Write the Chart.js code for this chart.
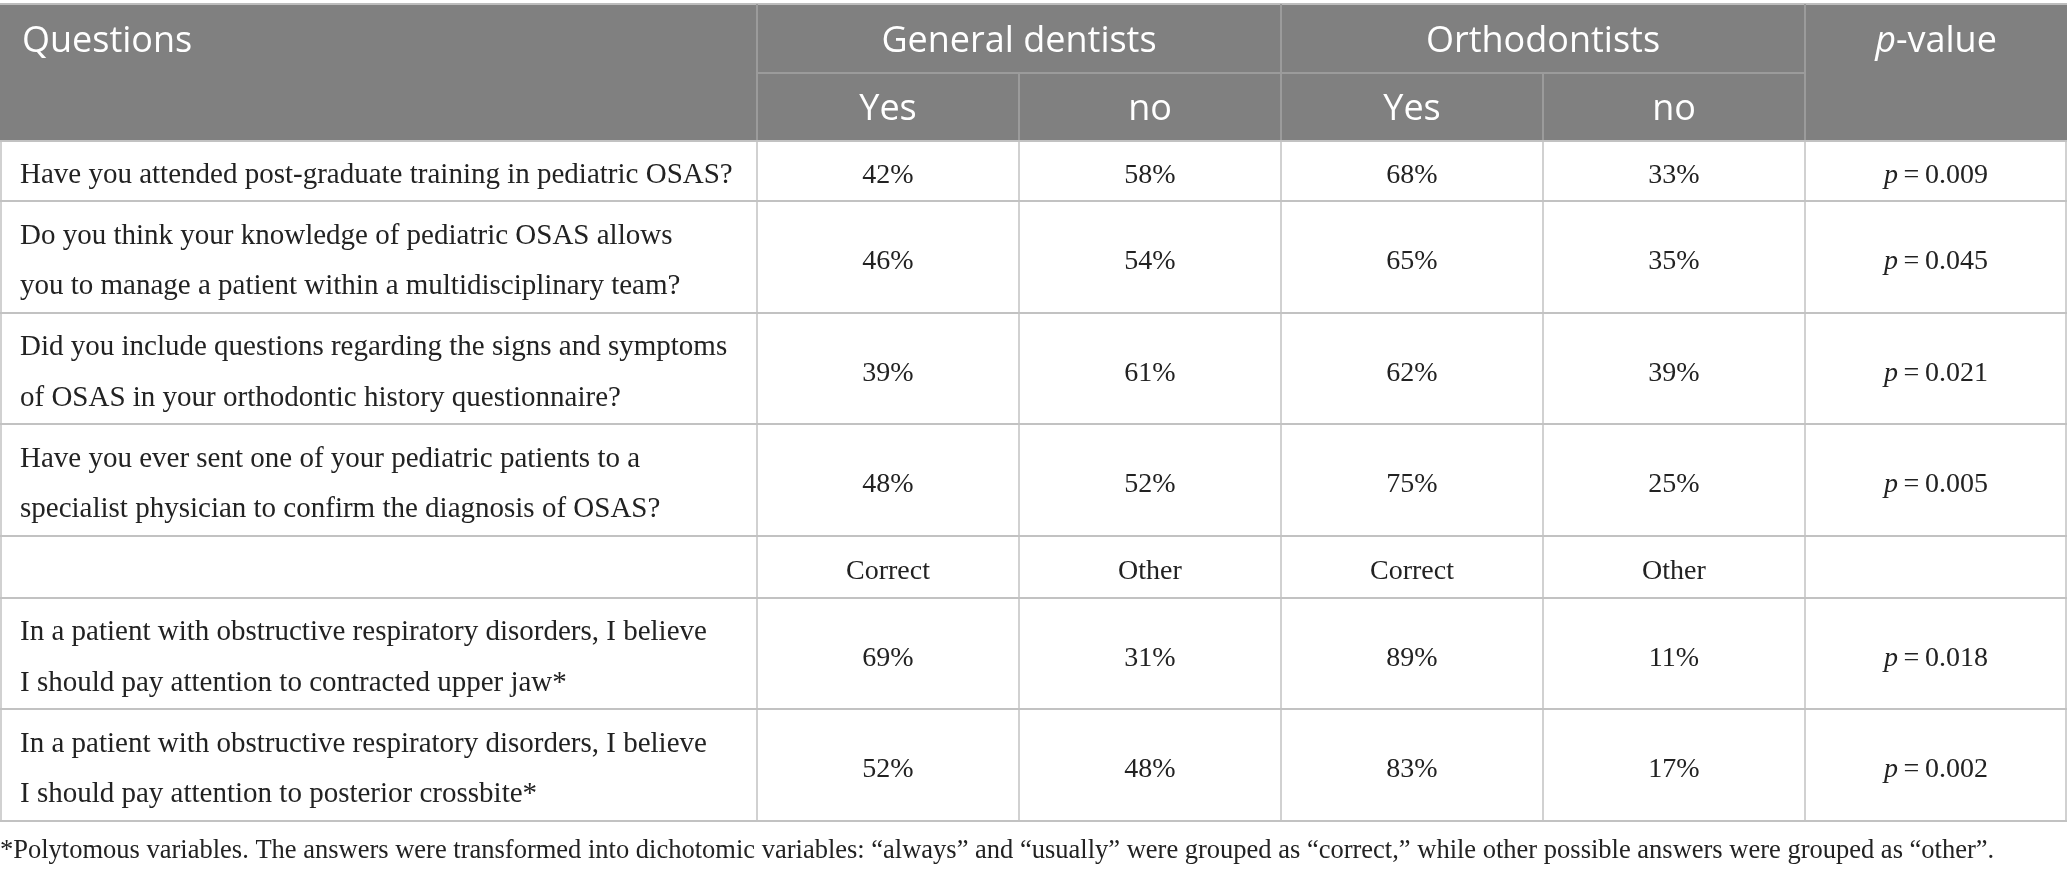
<!DOCTYPE html>
<html>
<head>
<meta charset="utf-8">
<title>Pediatric OSAS survey</title>
<script src="https://cdn.jsdelivr.net/npm/chart.js@4.4.1/dist/chart.umd.min.js"></script>
<style>
  html, body { margin: 0; padding: 0; background: #fff; }
  #wrap { width: 2067px; height: 875px; }
</style>
</head>
<body>
<div id="wrap"><canvas id="table" width="2067" height="875"></canvas></div>
<script>
// ==================== DATA ====================
const questions = [
    ['Have you attended post-graduate training in pediatric OSAS?'],
    ['Do you think your knowledge of pediatric OSAS allows', 'you to manage a patient within a multidisciplinary team?'],
    ['Did you include questions regarding the signs and symptoms', 'of OSAS in your orthodontic history questionnaire?'],
    ['Have you ever sent one of your pediatric patients to a', 'specialist physician to confirm the diagnosis of OSAS?'],
    ['In a patient with obstructive respiratory disorders, I believe', 'I should pay attention to contracted upper jaw*'],
    ['In a patient with obstructive respiratory disorders, I believe', 'I should pay attention to posterior crossbite*']
];
const generalYes = [42, 46, 39, 48, 69, 52];
const generalNo = [58, 54, 61, 52, 31, 48];
const orthoYes = [68, 65, 62, 75, 89, 83];
const orthoNo = [33, 35, 39, 25, 11, 17];
const pValues = ['0.009', '0.045', '0.021', '0.005', '0.018', '0.002'];
const groups = ['General dentists', 'Orthodontists'];
const answers = ['Yes', 'no'];
const altAnswers = ['Correct', 'Other'];
const footnote = '*Polytomous variables. The answers were transformed into dichotomic variables: \u201calways\u201d and \u201cusually\u201d were grouped as \u201ccorrect,\u201d while other possible answers were grouped as \u201cother\u201d.';

// ==================== LAYOUT ====================
// table grid in layout units (mapped through the chart scales)
const COL_EDGES = [0, 757, 1019, 1281, 1543, 1805, 2067];
const HEAD_EDGES = [4, 73, 141];
const ROW_EDGES = [141, 201, 313, 424, 536, 598, 709, 821];
const QUESTION_ROWS = [0, 1, 2, 3, 5, 6];   // body row 4 holds Correct / Other
const ALT_ROW = 4;
const FOOT_Y = 858;

const HEAD_BG = '#808080';
const HEAD_LINE = '#9b9b9b';
const BODY_LINE = '#c2c2c2';
const TEXT = '#222';
const SERIF = '"Liberation Serif", "DejaVu Serif", serif';
const SANS = '"Open Sans", "Noto Sans", sans-serif';
const QUESTION_SIZE = 29;
const CELL_SIZE = 28;
const FOOT_SIZE = 26.5;
const HEAD_SIZE = 36;
const LINE_GAP = 50.5;

const colMid = c => (COL_EDGES[c] + COL_EDGES[c + 1]) / 2;
const rowMid = r => (ROW_EDGES[r] + ROW_EDGES[r + 1]) / 2;

function columnDataset(col, values, fmt) {
    return {
        label: 'col' + col,
        data: values.map((v, i) => ({ x: colMid(col), y: rowMid(QUESTION_ROWS[i]) })),
        texts: values.map(fmt),
        kind: col === 5 ? 'p' : 'num',
        pointRadius: 0
    };
}

const datasets = [
    {
        label: 'questions',
        data: questions.map((q, i) => ({ x: COL_EDGES[0] + 20, y: rowMid(QUESTION_ROWS[i]) })),
        texts: questions,
        kind: 'question',
        pointRadius: 0
    },
    columnDataset(1, generalYes, v => v + '%'),
    columnDataset(2, generalNo, v => v + '%'),
    columnDataset(3, orthoYes, v => v + '%'),
    columnDataset(4, orthoNo, v => v + '%'),
    columnDataset(5, pValues, v => v),
    {
        label: 'alt answers',
        data: [1, 2, 3, 4].map(c => ({ x: colMid(c), y: rowMid(ALT_ROW) })),
        texts: [altAnswers[0], altAnswers[1], altAnswers[0], altAnswers[1]],
        kind: 'num',
        pointRadius: 0
    }
];

// ==================== PLUGINS ====================
const tableGrid = {
    id: 'tableGrid',
    beforeDatasetsDraw(chart) {
        const { ctx, scales: { x, y } } = chart;
        const X = v => x.getPixelForValue(v);
        const Y = v => y.getPixelForValue(v);
        const left = X(COL_EDGES[0]), right = X(COL_EDGES[6]);
        ctx.save();

        // header block
        ctx.fillStyle = HEAD_BG;
        ctx.fillRect(left, Y(HEAD_EDGES[0]), right - left, Y(HEAD_EDGES[2]) - Y(HEAD_EDGES[0]));
        ctx.strokeStyle = '#bdbdbd';
        ctx.lineWidth = 2;
        line(ctx, left, Y(HEAD_EDGES[0]), right, Y(HEAD_EDGES[0]));

        ctx.strokeStyle = HEAD_LINE;
        ctx.lineWidth = 2;
        [1, 3, 5].forEach(c => line(ctx, X(COL_EDGES[c]), Y(HEAD_EDGES[0]), X(COL_EDGES[c]), Y(HEAD_EDGES[2])));
        [2, 4].forEach(c => line(ctx, X(COL_EDGES[c]), Y(HEAD_EDGES[1]), X(COL_EDGES[c]), Y(HEAD_EDGES[2])));
        line(ctx, X(COL_EDGES[1]), Y(HEAD_EDGES[1]), X(COL_EDGES[5]), Y(HEAD_EDGES[1]));

        // body grid
        ctx.strokeStyle = BODY_LINE;
        ctx.lineWidth = 2;
        ROW_EDGES.forEach(r => line(ctx, left, Y(r), right, Y(r)));
        ctx.lineWidth = 1.5;
        COL_EDGES.forEach((c, i) => {
            let px = X(c);
            if (i === 0) px += 1;
            if (i === COL_EDGES.length - 1) px -= 1;
            line(ctx, px, Y(ROW_EDGES[0]), px, Y(ROW_EDGES[ROW_EDGES.length - 1]));
        });

        // header text
        ctx.fillStyle = '#fff';
        ctx.font = `${HEAD_SIZE}px ${SANS}`;
        ctx.textBaseline = 'alphabetic';
        const top = (Y(HEAD_EDGES[0]) + Y(HEAD_EDGES[1])) / 2 + 13;
        const sub = (Y(HEAD_EDGES[1]) + Y(HEAD_EDGES[2])) / 2 + 13;
        ctx.textAlign = 'left';
        ctx.fillText('Questions', X(COL_EDGES[0]) + 22, top);
        ctx.textAlign = 'center';
        groups.forEach((g, i) => ctx.fillText(g, X(COL_EDGES[1 + i * 2 + 1]), top));
        [1, 2, 3, 4].forEach(c => ctx.fillText(answers[(c - 1) % 2], X(colMid(c)), sub));
        mixed(ctx, [['italic', 'p'], ['normal', '-value']], X(colMid(5)), top, HEAD_SIZE, SANS);

        // footnote
        ctx.fillStyle = TEXT;
        ctx.textAlign = 'left';
        ctx.font = `${FOOT_SIZE}px ${SERIF}`;
        ctx.fillText(footnote, X(COL_EDGES[0]), Y(FOOT_Y));
        ctx.restore();
    },
    afterDatasetsDraw(chart) {
        const { ctx } = chart;
        ctx.save();
        ctx.fillStyle = TEXT;
        ctx.textBaseline = 'alphabetic';
        chart.data.datasets.forEach((ds, di) => {
            chart.getDatasetMeta(di).data.forEach((pt, i) => {
                const t = ds.texts[i];
                if (ds.kind === 'question') {
                    ctx.font = `${QUESTION_SIZE}px ${SERIF}`;
                    ctx.textAlign = 'left';
                    t.forEach((ln, k) => {
                        ctx.fillText(ln, pt.x, pt.y + 12 + (k - (t.length - 1) / 2) * LINE_GAP);
                    });
                } else if (ds.kind === 'p') {
                    mixed(ctx, [['italic', 'p'], ['normal', '\u2009=\u2009' + t]], pt.x, pt.y + 12, CELL_SIZE, SERIF);
                } else {
                    ctx.font = `${CELL_SIZE}px ${SERIF}`;
                    ctx.textAlign = 'center';
                    ctx.fillText(t, pt.x, pt.y + 12);
                }
            });
        });
        ctx.restore();
    }
};

function line(ctx, x1, y1, x2, y2) {
    ctx.beginPath();
    ctx.moveTo(x1, y1);
    ctx.lineTo(x2, y2);
    ctx.stroke();
}

// centred run of text pieces with different styles
function mixed(ctx, parts, cx, baseY, size, family) {
    const widths = parts.map(([style, s]) => {
        ctx.font = `${style} ${size}px ${family}`;
        return ctx.measureText(s).width;
    });
    let x = cx - widths.reduce((a, b) => a + b, 0) / 2;
    ctx.textAlign = 'left';
    parts.forEach(([style, s], i) => {
        ctx.font = `${style} ${size}px ${family}`;
        ctx.fillText(s, x, baseY);
        x += widths[i];
    });
    ctx.font = `${size}px ${family}`;
}

// ==================== CHART ====================
new Chart(document.getElementById('table'), {
    type: 'scatter',
    data: { datasets: datasets },
    options: {
        responsive: false,
        devicePixelRatio: 1,
        animation: false,
        events: [],
        layout: { padding: 0 },
        plugins: { legend: { display: false }, tooltip: { enabled: false } },
        scales: {
            x: { type: 'linear', min: 0, max: 2067, display: false },
            y: { type: 'linear', min: 0, max: 875, reverse: true, display: false }
        }
    },
    plugins: [tableGrid]
});
</script>
</body>
</html>
